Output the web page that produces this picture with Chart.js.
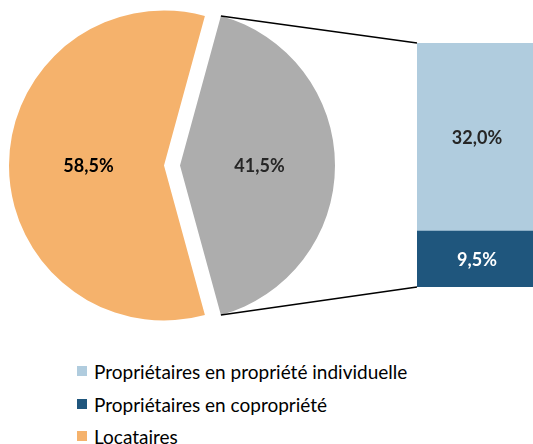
<!DOCTYPE html>
<html>
<head>
<meta charset="utf-8">
<script src="https://cdn.jsdelivr.net/npm/chart.js@4"></script>
<style>
  body { margin: 0; background: #fff; }
  #wrap { position: relative; width: 533px; height: 444px; overflow: hidden; font-family: Lato, "Open Sans", sans-serif; }
  #wrap canvas { position: absolute; left: 0; top: 0; }
  .leg { position: absolute; left: 77px; height: 20px; display: flex; align-items: center; font-size: 19px; color: #000; white-space: nowrap; }
  .leg span { display: inline-block; width: 10px; height: 10px; margin-right: 7px; }
</style>
</head>
<body>
<div id="wrap">
  <canvas id="pieLeft" width="533" height="330"></canvas>
  <canvas id="pieRight" width="533" height="330"></canvas>
  <canvas id="barChart" width="533" height="330"></canvas>
  <div id="legende"></div>
</div>
<script>
// pie: the gray slice (propriétaires) and the orange one (locataires)
const pieLabels = ["Propriétaires", "Locataires"];
const pieValues = [41.5, 58.5];
const pieColors = ["#ADADAD", "#F5B26C"];
const pieTextColors = ["#262626", "#000000"];

// the bar that splits the gray slice, bottom first
const barLabels = ["Propriétaires en copropriété", "Propriétaires en propriété individuelle"];
const barValues = [9.5, 32.0];
const barColors = ["#1F567D", "#B0CCDE"];
const barTextColors = ["#FFFFFF", "#262626"];

const legendLabels = ["Propriétaires en propriété individuelle", "Propriétaires en copropriété", "Locataires"];
const legendColors = ["#B0CCDE", "#1F567D", "#F5B26C"];

const fmt = v => v.toFixed(1).replace(".", ",") + "%";

const labelPlugin = {
  id: "valueLabels",
  afterDatasetsDraw(chart, args, opts) {
    const ctx = chart.ctx;
    ctx.save();
    ctx.font = "bold 18px Lato, 'Open Sans', sans-serif";
    ctx.textAlign = "center";
    ctx.textBaseline = "middle";
    chart.data.datasets.forEach((ds, di) => {
      chart.getDatasetMeta(di).data.forEach((el, i) => {
        const key = chart.config.type === "bar" ? di : i;
        if (!opts.show[key]) return;
        const p = el.getCenterPoint();
        ctx.fillStyle = opts.colors[key];
        ctx.fillText(fmt(ds.data[i]), p.x + 2, p.y + 1);
      });
    });
    ctx.restore();
  }
};

const total = pieValues.reduce((a, b) => a + b, 0);
// gray slice centered on the right
const rotation = 90 - pieValues[0] / total * 180;

function makePie(id, show, padRight) {
  return new Chart(document.getElementById(id), {
    type: "pie",
    data: {
      labels: pieLabels,
      datasets: [{
        data: pieValues,
        backgroundColor: pieColors.map((c, i) => show[i] ? c : "rgba(0,0,0,0)"),
        borderWidth: 0
      }]
    },
    options: {
      responsive: false,
      animation: false,
      events: [],
      rotation: rotation,
      radius: 155,
      layout: { padding: { top: 1, right: padRight } },
      plugins: {
        legend: { display: false },
        tooltip: { enabled: false },
        valueLabels: { show: show, colors: pieTextColors }
      }
    },
    plugins: [labelPlugin]
  });
}

const pieLeft = makePie("pieLeft", [false, true], 205);
const pieRight = makePie("pieRight", [true, false], 173);

const connectLines = {
  id: "connectLines",
  afterDraw(chart) {
    const arc = pieRight.getDatasetMeta(0).data[0];
    const top = chart.getDatasetMeta(1).data[0];
    const bottom = chart.getDatasetMeta(0).data[0];
    const left = top.x - top.width / 2;
    const ctx = chart.ctx;
    ctx.save();
    ctx.strokeStyle = "#000";
    ctx.lineWidth = 1.5;
    ctx.beginPath();
    ctx.moveTo(arc.x + arc.outerRadius * Math.cos(arc.startAngle), arc.y + arc.outerRadius * Math.sin(arc.startAngle));
    ctx.lineTo(left, top.y);
    ctx.moveTo(arc.x + arc.outerRadius * Math.cos(arc.endAngle), arc.y + arc.outerRadius * Math.sin(arc.endAngle));
    ctx.lineTo(left, bottom.base);
    ctx.stroke();
    ctx.restore();
  }
};

new Chart(document.getElementById("barChart"), {
  type: "bar",
  data: {
    labels: [""],
    datasets: barValues.map((v, i) => ({
      label: barLabels[i],
      data: [v],
      backgroundColor: barColors[i],
      borderWidth: 0,
      barPercentage: 1,
      categoryPercentage: 1
    }))
  },
  options: {
    responsive: false,
    animation: false,
    events: [],
    layout: { padding: { left: 417, top: 43, bottom: 43, right: 0 } },
    scales: {
      x: { stacked: true, display: false },
      y: { stacked: true, display: false, min: 0, max: barValues.reduce((a, b) => a + b, 0) }
    },
    plugins: {
      legend: { display: false },
      tooltip: { enabled: false },
      valueLabels: { show: [true, true], colors: barTextColors }
    }
  },
  plugins: [labelPlugin, connectLines]
});

const rowsTop = [361, 394, 426];
document.getElementById("legende").innerHTML = legendLabels
  .map((l, i) => `<div class="leg" style="top:${rowsTop[i]}px"><span style="background:${legendColors[i]}"></span>${l}</div>`)
  .join("");
</script>
</body>
</html>
